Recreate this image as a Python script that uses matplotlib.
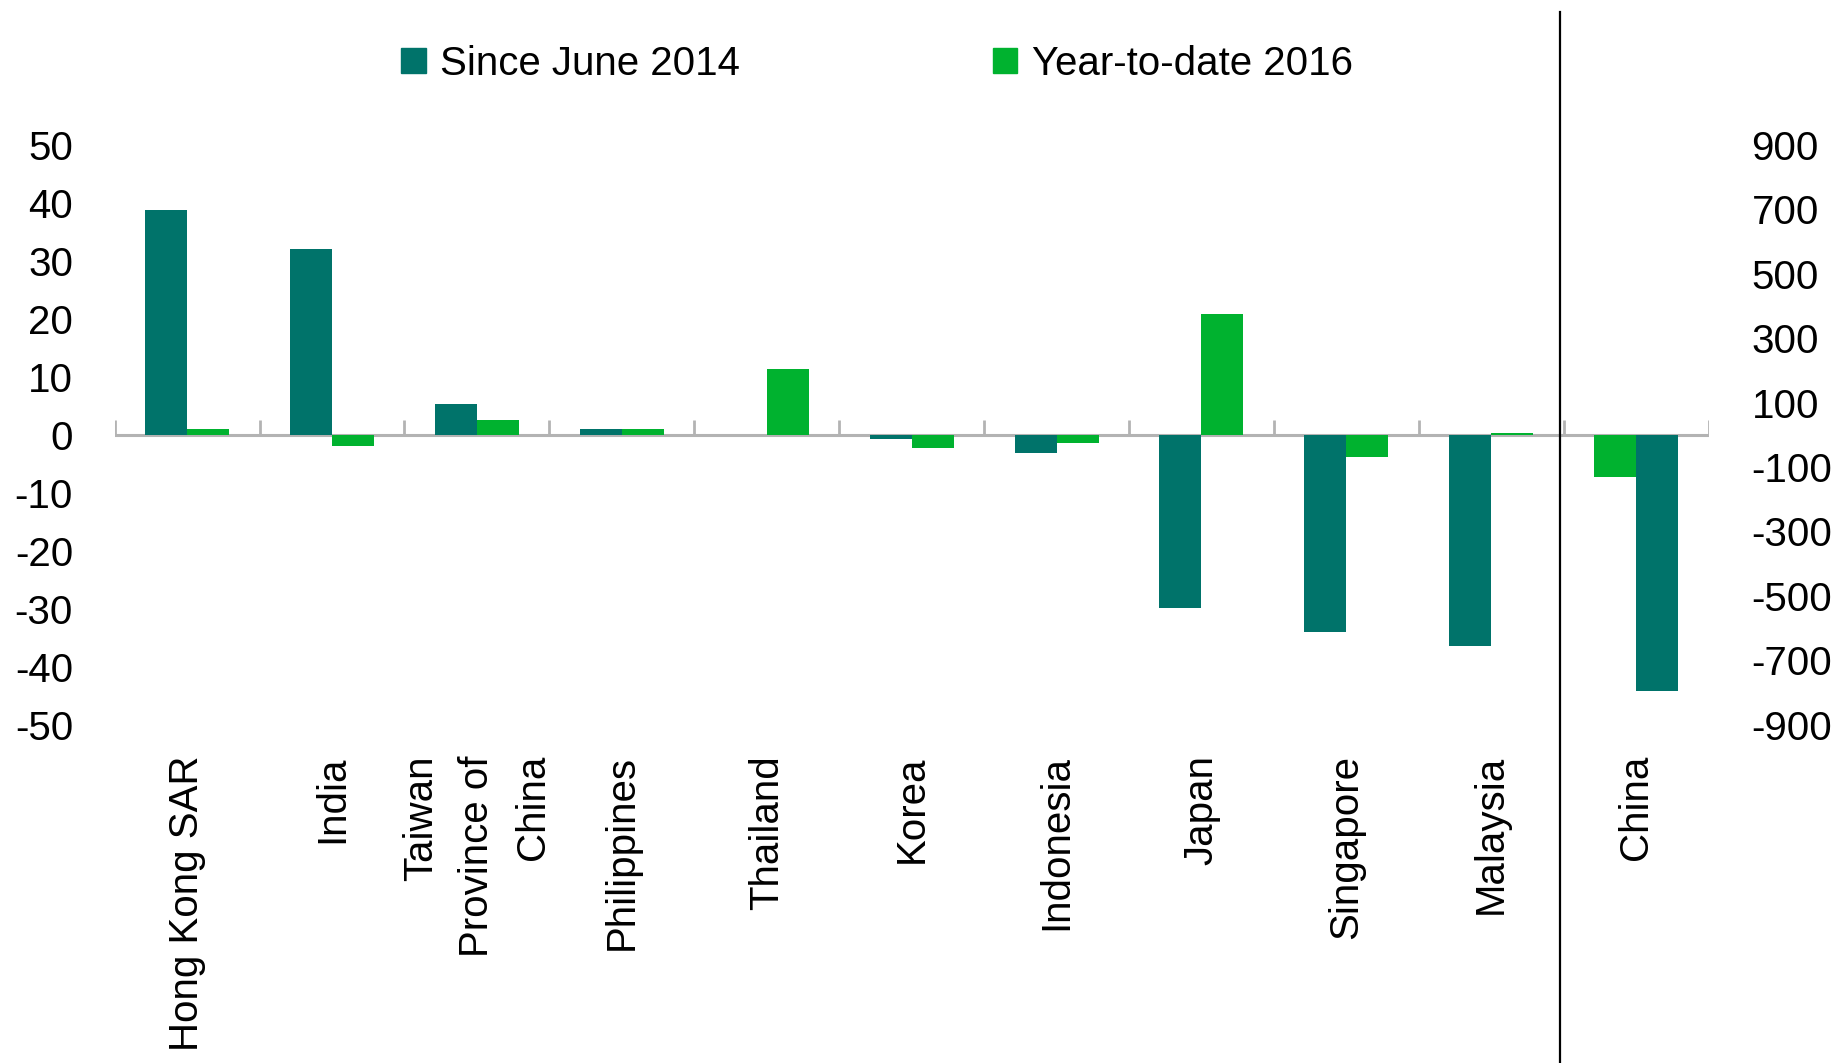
import numpy as np
import matplotlib
matplotlib.use('Agg')
from matplotlib import pyplot as plt
from matplotlib import transforms
from matplotlib.patches import Patch

plt.rcParams['font.family'] = ['Liberation Sans Narrow', 'Liberation Sans', 'DejaVu Sans']

#   Data (percent; China in billions on right axis)
countries = ['Hong Kong SAR', 'India', 'Taiwan\nProvince of\nChina', 'Philippines',
             'Thailand', 'Korea', 'Indonesia', 'Japan', 'Singapore', 'Malaysia']
since_june_2014 = [38.8, 32.1, 5.3, 1.0, 0.0, -0.8, -3.2, -29.9, -34.1, -36.4]
ytd_2016 = [1.0, -2.0, 2.6, 1.0, 11.3, -2.2, -1.4, 20.9, -3.8, 0.25]
china_label = 'China'
china_since = -795
china_ytd = -130

left_ticks = [50, 40, 30, 20, 10, 0, -10, -20, -30, -40, -50]
right_ticks = [900, 700, 500, 300, 100, -100, -300, -500, -700, -900]

teal = '#00736A'
green = '#00B22F'
grey = '#b3b3b3'

fig = plt.figure(figsize=(18.35, 10.63), dpi=100)
ax = fig.add_axes([0.0625, 0.3184, 0.8686, 0.5452])
ax2 = ax.twinx()

w = 0.29
x = np.arange(len(countries))
ax.bar(x - w / 2, since_june_2014, w, color=teal, zorder=3)
ax.bar(x + w / 2, ytd_2016, w, color=green, zorder=3)

xc = len(countries)
ax2.bar(xc - w / 2, china_ytd, w, color=green, zorder=3)
ax2.bar(xc + w / 2, china_since, w, color=teal, zorder=3)

ax.set_xlim(-0.5, xc + 0.5)
ax.set_ylim(-50, 50)
ax2.set_ylim(-900, 900)

#   zero line with small category ticks
ax.axhline(0, color=grey, lw=2.2, zorder=2)
ax.vlines(np.arange(xc + 2) - 0.5, 0, 2.5, color=grey, lw=2, zorder=2)

ax.set_xticks(list(x) + [xc])
ax.set_xticklabels(countries + [china_label], rotation=90, fontsize=29,
                   multialignment='right', linespacing=1.6)
ax.set_yticks(left_ticks)
ax.set_yticklabels([str(t) for t in left_ticks], fontsize=29)
ax2.set_yticks(right_ticks)
ax2.set_yticklabels([str(t) for t in right_ticks], fontsize=29)
ax.tick_params(axis='x', length=0, pad=22)
ax.tick_params(axis='y', length=0, pad=30)
ax2.tick_params(axis='y', length=0, pad=31)

for a in (ax, ax2):
    for s in a.spines.values():
        s.set_visible(False)

#   separator line for China
tr = transforms.blended_transform_factory(ax.transData, fig.transFigure)
ax.plot([9.476, 9.476], [0, 0.989], color='black', lw=1.6, transform=tr, clip_on=False)

handles = [Patch(color=teal), Patch(color=green)]
fig.legend(handles, ['Since June 2014', 'Year-to-date 2016'], ncol=2, frameon=False,
           fontsize=29, loc='center left', bbox_to_anchor=(0.199, 0.940),
           handlelength=0.6, handleheight=0.6, handletextpad=0.35, columnspacing=6.3)

fig.savefig('out.png', dpi=100)
